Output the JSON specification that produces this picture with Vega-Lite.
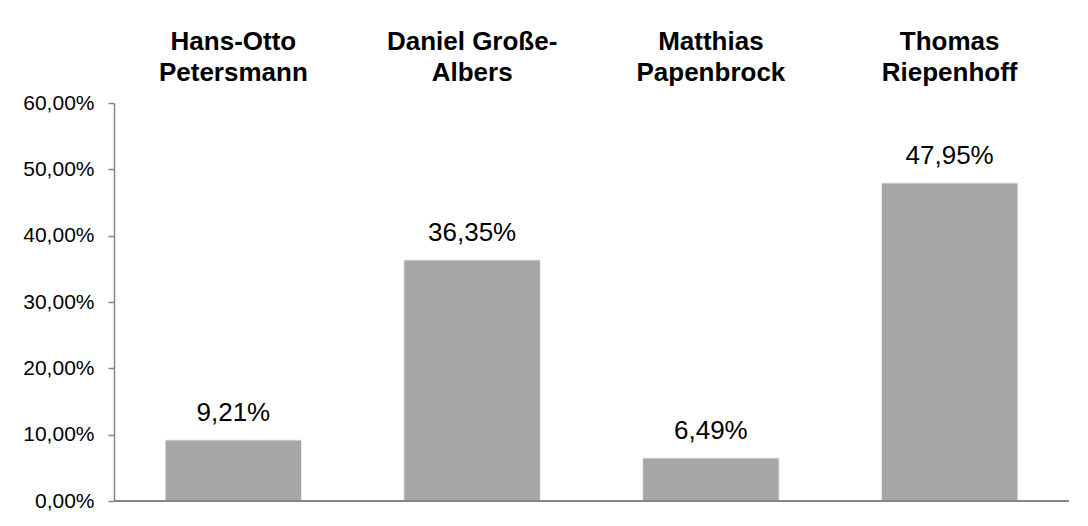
{
  "$schema": "https://vega.github.io/schema/vega-lite/v6.json",
  "width": 955,
  "height": 398,
  "padding": {"left": 5, "top": 5, "right": 5, "bottom": 5},
  "background": "white",
  "config": {
    "locale": {"number": {"decimal": ",", "thousands": ".", "grouping": [3], "currency": ["", " €"]}},
    "view": {"stroke": null},
    "font": "Liberation Sans"
  },
  "data": {
    "values": [
      {"name": "Hans-Otto Petersmann", "share": 0.0921},
      {"name": "Daniel Große-Albers", "share": 0.3635},
      {"name": "Matthias Papenbrock", "share": 0.0649},
      {"name": "Thomas Riepenhoff", "share": 0.4795}
    ]
  },
  "encoding": {
    "x": {
      "field": "name",
      "type": "nominal",
      "sort": null,
      "scale": {"paddingInner": 0.428, "paddingOuter": 0.214},
      "axis": {
        "orient": "top",
        "title": null,
        "domain": false,
        "ticks": false,
        "tickSize": 0,
        "labelAngle": 0,
        "labelFont": "Liberation Sans",
        "labelFontSize": 26,
        "labelFontWeight": "bold",
        "labelColor": "black",
        "labelLineHeight": 31,
        "labelBaseline": "alphabetic",
        "labelPadding": 54,
        "minExtent": 98,
        "labelExpr": "datum.label == 'Daniel Große-Albers' ? ['Daniel Große-', 'Albers'] : split(datum.label, ' ')"
      }
    }
  },
  "layer": [
    {
      "mark": {"type": "bar", "color": "#A6A6A6", "stroke": "#F2F2F2", "strokeWidth": 1},
      "encoding": {
        "y": {
          "field": "share",
          "type": "quantitative",
          "scale": {"domain": [0, 0.6], "nice": false},
          "axis": {
            "title": null,
            "format": ".2%",
            "values": [0, 0.1, 0.2, 0.3, 0.4, 0.5, 0.6],
            "grid": false,
            "domainColor": "#868686",
            "domainWidth": 1.5,
            "tickColor": "#868686",
            "tickSize": 6,
            "tickWidth": 1.5,
            "labelFont": "Liberation Sans",
            "labelFontSize": 21,
            "labelColor": "black",
            "labelPadding": 14,
            "minExtent": 109
          }
        }
      }
    },
    {
      "mark": {"type": "rule", "color": "#868686", "strokeWidth": 2},
      "encoding": {"y": {"datum": 0}, "x": null}
    },
    {
      "mark": {"type": "text", "fontSize": 26, "font": "Liberation Sans", "color": "black", "baseline": "alphabetic", "dy": -19},
      "encoding": {
        "y": {"field": "share", "type": "quantitative"},
        "text": {"field": "share", "type": "quantitative", "format": ".2%"}
      }
    }
  ]
}
